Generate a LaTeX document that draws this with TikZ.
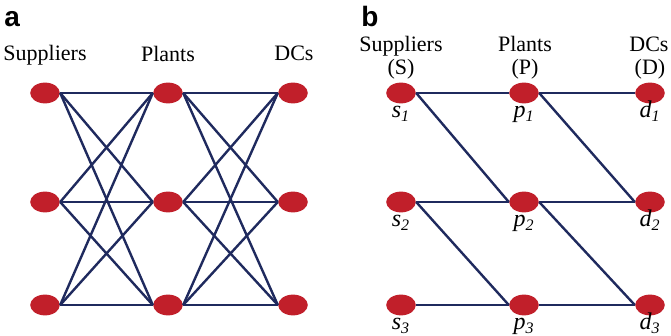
\documentclass[tikz,border=0pt]{standalone}
\usepackage{fontspec}
\setmainfont{Liberation Serif}
\newfontfamily\panelfont{Liberation Sans}
\usetikzlibrary{shapes.geometric}
\definecolor{siteRed}{HTML}{C11F2A}
\definecolor{linkBlue}{HTML}{1F2A5E}
\begin{document}
\begin{tikzpicture}[x=0.5pt,y=-0.5pt,
	site/.style={ellipse,fill=siteRed,minimum width=14.8pt,minimum height=10.4pt,inner sep=0pt},
	link/.style={draw=linkBlue,line width=1.2pt},
	tier/.style={anchor=base,inner sep=0pt,font=\fontsize{11}{13}\selectfont},
	sub/.style={anchor=base,inner sep=0pt,font=\fontsize{12}{14}\selectfont\itshape},
	panel/.style={anchor=base west,inner sep=0pt,font=\panelfont\bfseries\fontsize{14}{16}\selectfont}]
	\useasboundingbox (0,0) rectangle (671,336);
	% panel a: every site linked to every site of the next tier
	\node[panel] (ta) at (4,27) {a};
	\node[tier] (hsa) at (45,61) {Suppliers};
	\node[tier] (hpa) at (168,62) {Plants};
	\node[tier] (hda) at (294,61) {DCs};
	\foreach \r/\y in {1/93,2/202,3/305} {
		\node[site] (as\r) at (45,\y) {};
		\node[site] (ap\r) at (168,\y) {};
		\node[site] (ad\r) at (293,\y) {};
	}
	\foreach \i in {1,2,3}
		\foreach \j in {1,2,3} {
			\draw[link] (as\i.east) -- (ap\j.west);
			\draw[link] (ap\i.east) -- (ad\j.west);
		}
	% panel b: sparse links
	\node[panel] (tb) at (361,27) {b};
	\node[tier] (hsb) at (401,52) {Suppliers};
	\node[tier] (hpb) at (525,52) {Plants};
	\node[tier] (hdb) at (649,52) {DCs};
	\node[tier] (csb) at (401,75) {(S)};
	\node[tier] (cpb) at (525,75) {(P)};
	\node[tier] (cdb) at (650,75) {(D)};
	\foreach \r/\y in {1/93,2/202,3/305} {
		\node[site] (s\r) at (401,\y) {};
		\node[site] (p\r) at (524,\y) {};
		\node[site] (d\r) at (650,\y) {};
		\node[sub] (ls\r) at ([yshift=-12.5pt]s\r.center) {s\textsubscript{\r}};
		\node[sub] (lp\r) at ([yshift=-12.5pt]p\r.center) {p\textsubscript{\r}};
		\node[sub] (ld\r) at ([yshift=-12.5pt]d\r.center) {d\textsubscript{\r}};
	}
	\foreach \a/\b in {s1/p1,s1/p2,s2/p2,s2/p3,s3/p3,p1/d1,p1/d2,p2/d2,p2/d3,p3/d3}
		\draw[link] (\a.east) -- (\b.west);
\end{tikzpicture}
\end{document}
